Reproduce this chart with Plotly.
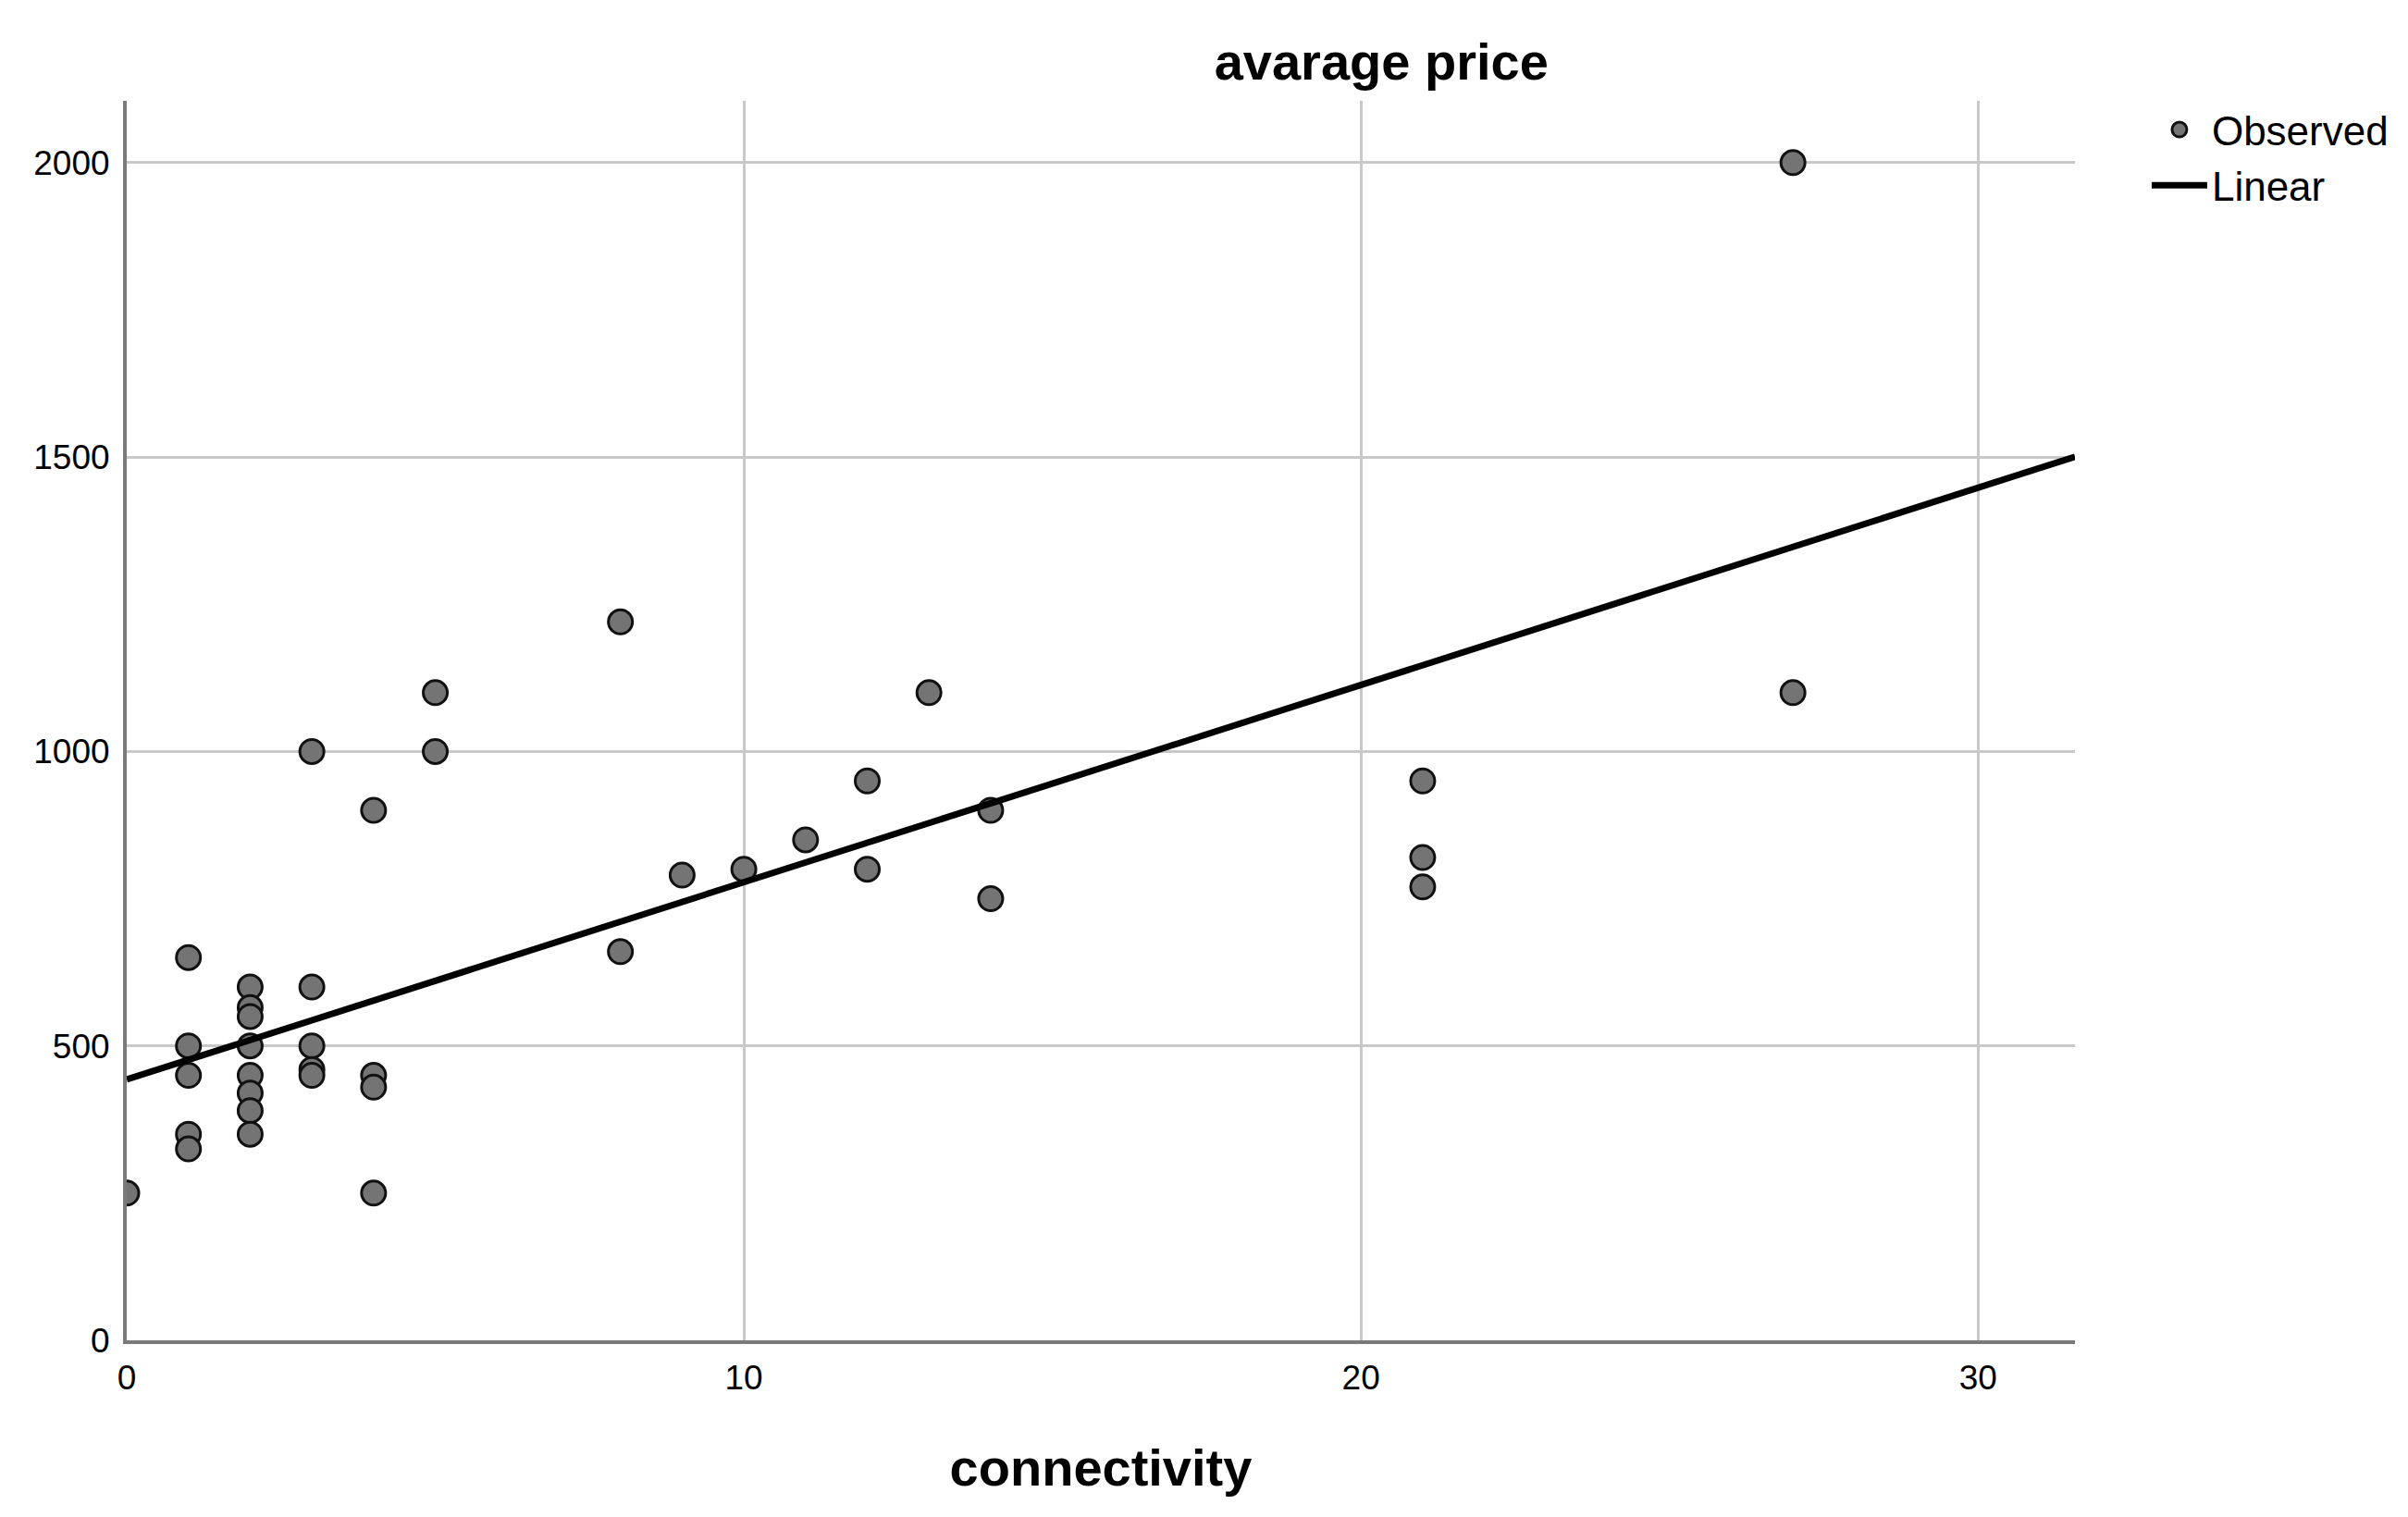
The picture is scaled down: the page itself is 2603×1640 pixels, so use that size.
import plotly.graph_objects as go

# ---- data ----
connectivity = [0,
                1, 1, 1, 1, 1,
                2, 2, 2, 2, 2, 2, 2, 2,
                3, 3, 3, 3, 3,
                4, 4, 4, 4,
                5, 5,
                8, 8,
                9,
                10,
                11,
                12, 12,
                13,
                14, 14,
                21, 21, 21,
                27, 27]
avg_price = [250,
             650, 500, 450, 350, 325,
             600, 565, 550, 500, 450, 420, 390, 350,
             1000, 600, 500, 460, 450,
             900, 450, 430, 250,
             1100, 1000,
             1220, 660,
             790,
             800,
             850,
             950, 800,
             1100,
             900, 750,
             950, 820, 770,
             2000, 1100]

# linear fit as drawn in the reference
fit_intercept = 443.0
fit_slope = 33.5

x_range = [0, 31.57]
y_range = [0, 2105]
x_ticks = [0, 10, 20, 30]
y_ticks = [0, 500, 1000, 1500, 2000]

fit_x = x_range
fit_y = [fit_intercept + fit_slope * v for v in fit_x]

FONT = "Liberation Sans, Arial, sans-serif"

fig = go.Figure()
fig.add_trace(go.Scatter(
    x=connectivity, y=avg_price, mode="markers", name="Observed",
    marker=dict(size=26, color="#747474", line=dict(color="#111111", width=3)),
))
fig.add_trace(go.Scatter(
    x=fit_x, y=fit_y, mode="lines", name="Linear",
    line=dict(color="black", width=7),
))

fig.update_layout(
    width=2603, height=1640,
    margin=dict(l=129, r=368, t=101, b=199),
    paper_bgcolor="white", plot_bgcolor="white",
    font=dict(family=FONT, color="black", size=37),
    title=dict(text="<b>avarage price</b>", font=dict(size=56, family=FONT, color="black"),
               xref="paper", x=0.644, xanchor="center", y=1 - 58 / 1640, yanchor="middle"),
    legend=dict(x=1.037, y=1.003, xanchor="left", yanchor="top",
                font=dict(size=44, family=FONT, color="black"),
                bgcolor="rgba(0,0,0,0)", itemwidth=60, tracegroupgap=0),
    showlegend=True,
)

fig.update_xaxes(
    range=x_range, tickvals=x_ticks, showgrid=True, gridcolor="#c8c8c8", gridwidth=3,
    zeroline=False, showline=True, linecolor="#7a7a7a", linewidth=4,
    ticks="outside", ticklen=5, tickcolor="rgba(0,0,0,0)",
    tickfont=dict(size=37, family=FONT, color="black"),
    title=dict(text="<b>connectivity</b>", font=dict(size=56, family=FONT, color="black"), standoff=58),
)
fig.update_yaxes(
    range=y_range, tickvals=y_ticks, showgrid=True, gridcolor="#c8c8c8", gridwidth=3,
    zeroline=False, showline=True, linecolor="#7a7a7a", linewidth=4,
    ticks="outside", ticklen=7, tickcolor="rgba(0,0,0,0)",
    tickfont=dict(size=37, family=FONT, color="black"),
)

fig.write_html("out.html")
